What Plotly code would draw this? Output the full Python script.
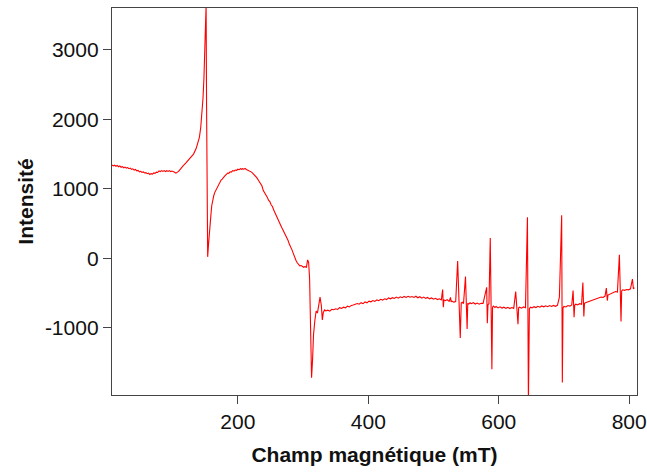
import plotly.graph_objects as go

# Field (mT) and intensity values
field_mT = [
    7, 9, 11, 13, 15, 17, 19, 21, 23, 25, 27, 29, 31, 33, 35, 37, 39, 41, 43, 45,
    47, 49, 51, 53, 55, 57, 59, 61, 63, 65, 67, 69, 71, 73, 75, 77, 79, 81, 83, 85,
    87, 89, 91, 93, 95, 97, 99, 101, 103, 105, 107, 109,
    110, 113, 116, 120, 124, 128, 132, 136, 139, 141, 143, 145, 146.5, 148, 149.3,
    150.3, 151.3, 152, 153, 153.7,
    155, 156.3, 157.5, 158.9, 160, 161.4, 163, 164.5, 166.6, 168, 170, 172, 174.3,
    176, 178, 180, 182, 184.4, 186, 188, 190, 192, 194, 196, 198, 200, 202, 204, 206,
    207, 209, 211, 213, 215, 217, 219, 221, 223, 225, 227, 229, 231, 233, 235, 237,
    239, 241, 243, 245, 247, 249, 251, 253, 255, 257, 259, 261, 263, 265, 267, 269,
    271, 273, 275, 277, 279, 281, 283, 285, 287, 289, 291, 293, 295, 297, 299, 301,
    303, 305, 307, 308.5, 310, 311.5, 313, 314.6, 316, 318, 320, 322, 324, 326, 328,
    329.5, 331, 333,
    335, 338, 341, 344, 347, 350, 353, 356, 359, 362, 365, 368, 371, 374, 377, 380,
    383, 386, 389, 392, 395, 398, 401, 404, 407, 410, 413, 416, 419, 422, 425, 428,
    431, 434, 437, 440, 443, 446, 449, 452, 455, 458, 461, 464, 467, 470, 473, 476,
    479, 482, 485, 488, 491, 494, 497, 500, 503, 506, 509, 512, 514, 515, 516, 518,
    521, 524, 526, 527, 528, 531, 534, 537, 541, 542.5, 544, 546, 549, 551.5, 552.5,
    554, 556, 558, 561, 564, 567, 570, 573, 576, 581.5, 582.5, 583.5, 585, 587,
    589.5, 590.5, 592, 594, 596, 599, 602, 605, 608, 611, 614, 617, 620, 623, 626,
    629.5, 630.5, 632, 635, 638, 641, 644, 645.5, 647, 648.5, 651, 654, 657, 660, 663,
    666, 669, 672, 675, 678, 681, 684, 687, 690, 693, 696.5, 697.5, 698.5, 700, 703,
    706, 709, 712, 714, 715.5, 716.5, 718, 721, 724, 727, 729, 730.5, 731.5, 733, 736,
    739, 742, 745, 748, 751, 754, 757, 760, 763, 765, 766.5, 767.5, 770, 773, 776,
    779, 782, 785, 787.5, 788.5, 790, 793, 796, 799, 802, 805, 806.5, 808, 811,
]
intensity = [
    1342, 1330, 1340, 1325, 1336, 1318, 1328, 1310, 1320, 1303, 1312, 1298, 1306, 1290,
    1298, 1280, 1288, 1270, 1278, 1258, 1265, 1245, 1252, 1235, 1242, 1228, 1233, 1218,
    1226, 1205, 1218, 1212, 1228, 1222, 1240, 1235, 1258, 1248, 1262, 1250, 1262, 1248,
    1260, 1250, 1262, 1248, 1255, 1240, 1238, 1225, 1235, 1250,
    1262, 1300, 1330, 1370, 1410, 1450, 1500, 1580, 1660, 1740, 1880, 2080, 2300, 2600,
    2950, 3300, 3650, 2200, 900, 20,
    200, 407, 540, 650, 760, 840, 900, 945, 983, 1010, 1060, 1090, 1127, 1140, 1170,
    1185, 1205, 1227, 1222, 1245, 1240, 1262, 1255, 1270, 1265, 1282, 1275, 1290, 1280,
    1290, 1282, 1292, 1278, 1270, 1262, 1255, 1240, 1222, 1205, 1185, 1160, 1130, 1105,
    1065, 1040, 975, 945, 905, 880, 835, 815, 770, 745, 695, 650, 600, 565, 520, 490,
    445, 410, 372, 340, 300, 255, 200, 165, 120, 70, 10, -30, -65, -95, -110, -105,
    -125, -130, -118, -135, -25, -60, -300, -1100, -1720, -1450, -1100, -900, -760, -790,
    -700, -560, -680, -890, -780,
    -745, -760, -748, -762, -735, -742, -728, -738, -712, -722, -705, -715, -690, -702,
    -680, -675, -668, -652, -662, -640, -655, -630, -642, -618, -628, -610, -622, -600,
    -612, -592, -603, -585, -596, -572, -585, -568, -580, -560, -575, -555, -568, -550,
    -565, -548, -562, -552, -565, -548, -570, -555, -575, -560, -578, -565, -585, -572,
    -590, -578, -595, -585, -600, -450, -705, -600, -612, -598, -622, -565, -628, -615,
    -632, -625, -40, -1150, -645, -635, -652, -265, -1020, -648, -660, -642, -655, -640,
    -660, -645, -662, -648, -650, -420, -935, -670, -655, 290, -1600, -705, -690, -710,
    -695, -715, -700, -718, -705, -722, -708, -725, -710, -722, -480, -950, -715, -705,
    -720, -702, -712, 590, -2100, -730, -705, -715, -698, -710, -692, -705, -688, -700,
    -685, -698, -682, -695, -680, -692, -678, -560, 620, -1790, -715, -695, -702, -682,
    -690, -672, -466, -850, -678, -662, -672, -655, -662, -350, -840, -648, -640, -630,
    -620, -612, -600, -595, -585, -575, -560, -565, -545, -430, -610, -530, -520, -500,
    -495, -480, -488, 50, -910, -470, -455, -462, -450, -455, -440, -300, -440, -425,
]

x_ticks = [200, 400, 600, 800]
y_ticks = [-1000, 0, 1000, 2000, 3000]
y_tick_text = ["-1000", "0", "1000", "2000", "3000"]

fig = go.Figure(go.Scatter(
    x=field_mT, y=intensity, mode="lines",
    line=dict(color="#ff0000", width=1.1),
    showlegend=False,
))

font_family = "Liberation Sans, Arial"
axis_common = dict(
    showgrid=False, zeroline=False, showline=True, mirror=True,
    linecolor="#444444", linewidth=1.2,
    ticks="outside", ticklen=8, tickcolor="#444444", tickwidth=1,
    tickfont=dict(family=font_family, size=21, color="#111111"),
    automargin=False,
)

fig.update_layout(
    width=647, height=473,
    margin=dict(l=112, r=10, t=8, b=78),
    plot_bgcolor="white", paper_bgcolor="white",
    xaxis=dict(
        range=[7, 812], tickvals=x_ticks,
        title=dict(text="<b>Champ magnétique (mT)</b>", standoff=14,
                   font=dict(family=font_family, size=21, color="#111111")),
        **axis_common,
    ),
    yaxis=dict(
        range=[-1970, 3604], tickvals=y_ticks, ticktext=y_tick_text,
        title=dict(text="<b>Intensité</b>", standoff=5,
                   font=dict(family=font_family, size=21, color="#111111")),
        **axis_common,
    ),
)

fig.write_html(
    "out.html",
    config={"displayModeBar": False, "staticPlot": True},
    post_script="document.body.style.margin='0';document.body.style.overflow='hidden';",
)
